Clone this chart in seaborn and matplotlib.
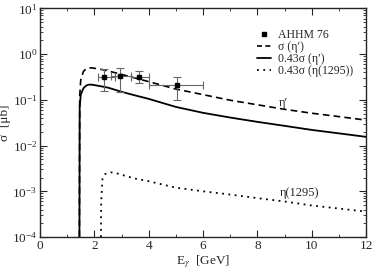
import numpy as np
import matplotlib
matplotlib.use("Agg")
import matplotlib.pyplot as plt
from matplotlib.lines import Line2D
from matplotlib.ticker import MultipleLocator, LogLocator
import seaborn as sns

# ==========================
# Data
# ==========================

e_eta = [1.45, 1.46, 1.5, 1.6, 1.7, 1.8, 1.9, 2.0, 2.2, 2.5, 3.0, 3.5,
         4.0, 5.0, 6.0, 7.0, 8.0, 9.0, 10.0, 11.0, 12.0]

sigma_eta = [1e-4, 0.12, 0.28, 0.42, 0.48, 0.50, 0.50, 0.49, 0.47, 0.43,
             0.36, 0.30, 0.25, 0.172, 0.13, 0.098, 0.078, 0.062, 0.051,
             0.043, 0.036]

sigma_eta_043 = [1e-4, 0.07, 0.13, 0.18, 0.205, 0.215, 0.215, 0.21, 0.20,
                 0.185, 0.15, 0.125, 0.105, 0.07, 0.052, 0.041, 0.033,
                 0.027, 0.022, 0.0185, 0.0155]

e_1295 = [2.24, 2.25, 2.3, 2.4, 2.6, 2.8, 3.0, 3.5, 4.0, 5.0, 6.0, 7.0,
          8.0, 9.0, 10.0, 11.0, 12.0]

sigma_1295 = [1e-4, 0.0006, 0.0019, 0.0024, 0.0026, 0.0025, 0.0023,
              0.0019, 0.00166, 0.0012, 0.001, 0.00085, 0.00071, 0.0006,
              0.00049, 0.00042, 0.00036]

data_e = [2.36, 2.95, 3.65, 5.03]
data_sigma = [0.32, 0.33, 0.32, 0.21]
data_e_lo = [2.12, 2.62, 3.35, 4.0]
data_e_hi = [2.75, 3.35, 4.0, 6.0]
data_sigma_lo = [0.155, 0.15, 0.236, 0.10]
data_sigma_hi = [0.47, 0.50, 0.42, 0.31]

# ==========================
# Style
# ==========================

sns.set_style("ticks")
plt.rcParams["font.family"] = ["Liberation Serif", "DejaVu Serif"]
plt.rcParams["mathtext.fontset"] = "stix"
plt.rcParams["xtick.direction"] = "in"
plt.rcParams["ytick.direction"] = "in"

fig = plt.figure(figsize=(3.74, 2.70), dpi=100)
ax = fig.add_axes([0.107, 0.122, 0.872, 0.847])

# ==========================
# Curves
# ==========================

sns.lineplot(x=e_eta, y=sigma_eta, ax=ax, color="black",
             linewidth=1.2, linestyle=(0, (4, 2.5)), sort=False)
sns.lineplot(x=e_eta, y=sigma_eta_043, ax=ax, color="black",
             linewidth=1.3, sort=False)
sns.lineplot(x=e_1295, y=sigma_1295, ax=ax, color="black",
             linewidth=1.3, linestyle=(0, (1, 2.5)), sort=False)

xerr = [np.array(data_e) - np.array(data_e_lo),
        np.array(data_e_hi) - np.array(data_e)]
yerr = [np.array(data_sigma) - np.array(data_sigma_lo),
        np.array(data_sigma_hi) - np.array(data_sigma)]

ax.errorbar(data_e, data_sigma, xerr=xerr, yerr=yerr, fmt="s",
            color="black", ecolor="#666666", markersize=3.5,
            elinewidth=0.8, capsize=3, capthick=0.8)

# ==========================
# Axes
# ==========================

ax.set_yscale("log")
ax.set_xlim(0, 12)
ax.set_ylim(1e-4, 10)
ax.xaxis.set_major_locator(MultipleLocator(2))
ax.xaxis.set_minor_locator(MultipleLocator(1))
ax.yaxis.set_major_locator(LogLocator(base=10, numticks=10))
ax.yaxis.set_minor_locator(LogLocator(base=10, subs=np.arange(2, 10), numticks=20))

ax.tick_params(which="both", top=True, right=True, labelsize=9.5, pad=2)
ax.tick_params(which="major", length=5, width=0.8)
ax.tick_params(which="minor", length=2.5, width=0.6)
for side in ax.spines.values():
    side.set_linewidth(1.0)

ax.set_xlabel(r"E$_\gamma$  [GeV]", fontsize=9.5)
ax.set_ylabel(r"σ  [μb]", fontsize=9.5)
ax.xaxis.set_label_coords(0.5, -0.072)
ax.yaxis.set_label_coords(-0.09, 0.5)

ax.text(8.95, 0.085, "η′", fontsize=9, ha="center", va="center")
ax.text(9.55, 0.00093, "η(1295)", fontsize=9, ha="center", va="center")

# ==========================
# Legend
# ==========================

handles = [
    Line2D([], [], marker="s", color="black", linestyle="none", markersize=3),
    Line2D([], [], color="black", linewidth=1.2, linestyle=(0, (3, 2))),
    Line2D([], [], color="black", linewidth=1.3),
    Line2D([], [], color="black", linewidth=1.3, linestyle=(0, (1, 2.5))),
]
labels = ["AHHM 76", "σ (η′)", "0.43σ (η′)", "0.43σ (η(1295))"]

ax.legend(handles, labels, loc="upper right", bbox_to_anchor=(0.985, 0.945),
          frameon=False, fontsize=8.5, handlelength=1.2, handletextpad=0.6,
          labelspacing=0.0, borderpad=0.2)

plt.savefig("out.png", dpi=100)
plt.close()
